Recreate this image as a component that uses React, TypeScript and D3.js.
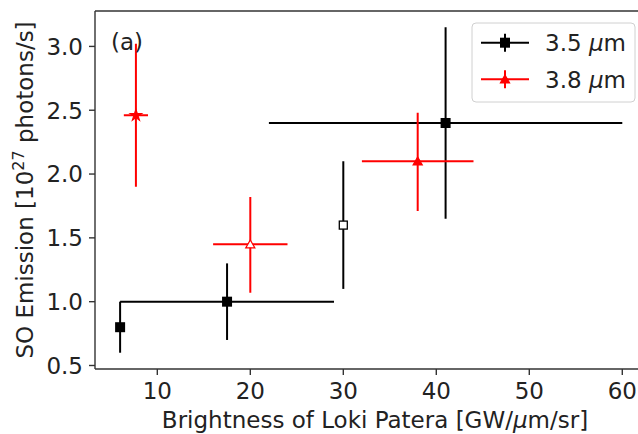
import React, { useEffect } from "react";
import * as d3 from "d3";

// 3.5 µm series (black squares)
const x35 = [6, 17.5, 30, 41];
const y35 = [0.8, 1.0, 1.6, 2.4];
const x35Lo = [6, 6, 30, 22];
const x35Hi = [6, 29, 30, 60];
const y35Lo = [0.6, 0.7, 1.1, 1.65];
const y35Hi = [1.0, 1.3, 2.1, 3.15];
const open35 = [false, false, true, false];

// 3.8 µm series (red)
const x38 = [7.7, 20, 38];
const y38 = [2.46, 1.45, 2.1];
const x38Lo = [6.4, 16, 32];
const x38Hi = [9.0, 24, 44];
const y38Lo = [1.9, 1.07, 1.71];
const y38Hi = [3.02, 1.82, 2.48];
const marker38 = ["star", "openTriangle", "triangle"];

const xTicks = [10, 20, 30, 40, 50, 60];
const yTicks = [0.5, 1.0, 1.5, 2.0, 2.5, 3.0];
const legendLabels = ["3.5", "3.8"];

const W = 638;
const H = 434;
const M = { left: 95, top: 11, right: 647.4, bottom: 369 };
const FONT = "DejaVu Sans, sans-serif";
const RED = "#ff0000";
const SPINE = "#333333";
const FS = 23;

export default function App() {
  useEffect(() => {
    document.body.style.margin = "0";
    document.body.style.overflow = "hidden";
    document.documentElement.style.overflow = "hidden";
  }, []);

  const x = d3.scaleLinear().domain([3.3, 62.7]).range([M.left, M.right]);
  const y = d3.scaleLinear().domain([0.4725, 3.2775]).range([M.bottom, M.top]);

  const star = d3.symbol().type(d3.symbolStar).size(40)() as string;
  const tri = d3.symbol().type(d3.symbolTriangle).size(36)() as string;

  return (
    <svg
      width={W}
      height={H}
      style={{ position: "absolute", left: 0, top: 0, background: "#fff", display: "block" }}
      fontFamily={FONT}
    >
      <defs>
        <clipPath id="plot">
          <rect x={M.left} y={M.top} width={M.right - M.left} height={M.bottom - M.top} />
        </clipPath>
      </defs>
      <rect x={0} y={0} width={W} height={H} fill="#fff" />

      {/* spines */}
      <g stroke={SPINE} strokeWidth={1.4}>
        <line x1={M.left} x2={M.left} y1={M.top} y2={M.bottom} />
        <line x1={M.left} x2={W} y1={M.top} y2={M.top} />
        <line x1={M.left} x2={W} y1={M.bottom} y2={M.bottom} />
      </g>

      {/* x ticks */}
      {xTicks.map((t) => (
        <g key={"xt" + t}>
          <line x1={x(t)} x2={x(t)} y1={M.bottom} y2={M.bottom + 6} stroke={SPINE} strokeWidth={1.4} />
          <text x={x(t)} y={398.5} textAnchor="middle" fontSize={FS} fill="#222">
            {t}
          </text>
        </g>
      ))}
      {/* y ticks */}
      {yTicks.map((t) => (
        <g key={"yt" + t}>
          <line x1={M.left - 6} x2={M.left} y1={y(t)} y2={y(t)} stroke={SPINE} strokeWidth={1.4} />
          <text x={83} y={y(t) + 8.4} textAnchor="end" fontSize={FS} fill="#222">
            {t.toFixed(1)}
          </text>
        </g>
      ))}

      {/* axis labels */}
      <text x={375} y={428.3} textAnchor="middle" fontSize={FS} fill="#222">
        Brightness of Loki Patera [GW/
        <tspan fontStyle="italic">μ</tspan>m/sr]
      </text>
      <text
        transform={`translate(33,${(M.top + M.bottom) / 2}) rotate(-90)`}
        textAnchor="middle"
        fontSize={FS}
        fill="#222"
      >
        SO Emission [10
        <tspan dy={-9} fontSize={16}>27</tspan>
        <tspan dy={9}> photons/s]</tspan>
      </text>

      <g clipPath="url(#plot)">
        {/* 3.5 µm error bars */}
        {x35.map((_, i) => (
          <g key={"e35" + i} stroke="#000" strokeWidth={2}>
            {x35Hi[i] > x35Lo[i] && (
              <line x1={x(x35Lo[i])} x2={x(x35Hi[i])} y1={y(y35[i])} y2={y(y35[i])} />
            )}
            <line x1={x(x35[i])} x2={x(x35[i])} y1={y(y35Lo[i])} y2={y(y35Hi[i])} />
          </g>
        ))}
        {/* 3.8 µm error bars */}
        {x38.map((_, i) => (
          <g key={"e38" + i} stroke={RED} strokeWidth={2}>
            <line x1={x(x38Lo[i])} x2={x(x38Hi[i])} y1={y(y38[i])} y2={y(y38[i])} />
            <line x1={x(x38[i])} x2={x(x38[i])} y1={y(y38Lo[i])} y2={y(y38Hi[i])} />
          </g>
        ))}
        {/* 3.5 markers */}
        {x35.map((_, i) =>
          open35[i] ? (
            <rect
              key={"m35" + i}
              x={x(x35[i]) - 4}
              y={y(y35[i]) - 4}
              width={8}
              height={8}
              fill="#fff"
              stroke="#000"
              strokeWidth={1.3}
            />
          ) : (
            <rect key={"m35" + i} x={x(x35[i]) - 5} y={y(y35[i]) - 5} width={10} height={10} fill="#000" />
          )
        )}
        {/* 3.8 markers */}
        {x38.map((_, i) => (
          <path
            key={"m38" + i}
            d={marker38[i] === "star" ? star : tri}
            transform={`translate(${x(x38[i])},${y(y38[i]) + (marker38[i] === "star" ? 0 : 1)})`}
            fill={marker38[i] === "openTriangle" ? "#fff" : RED}
            stroke={RED}
            strokeWidth={1.2}
          />
        ))}
      </g>

      {/* panel label */}
      <text x={111} y={50} fontSize={FS} fill="#222">
        (a)
      </text>

      {/* legend */}
      <rect x={472} y={23} width={163} height={79} rx={4} fill="#fff" fillOpacity={0.8} stroke="#d0d0d0" strokeWidth={1} />
      {legendLabels.map((lab, i) => {
        const cy = i === 0 ? 42.7 : 79.3;
        const col = i === 0 ? "#000" : RED;
        return (
          <g key={"lg" + i}>
            <line x1={481} x2={529} y1={cy} y2={cy} stroke={col} strokeWidth={2} />
            <line x1={505} x2={505} y1={cy - 9} y2={cy + 9} stroke={col} strokeWidth={2} />
            {i === 0 ? (
              <rect x={500} y={cy - 5} width={10} height={10} fill="#000" />
            ) : (
              <path d={tri} transform={`translate(505,${cy + 1})`} fill={RED} stroke={RED} strokeWidth={1.2} />
            )}
            <text x={545} y={cy + 8.6} fontSize={FS} fill="#222">
              {lab} <tspan fontStyle="italic">μ</tspan>m
            </text>
          </g>
        );
      })}
    </svg>
  );
}
